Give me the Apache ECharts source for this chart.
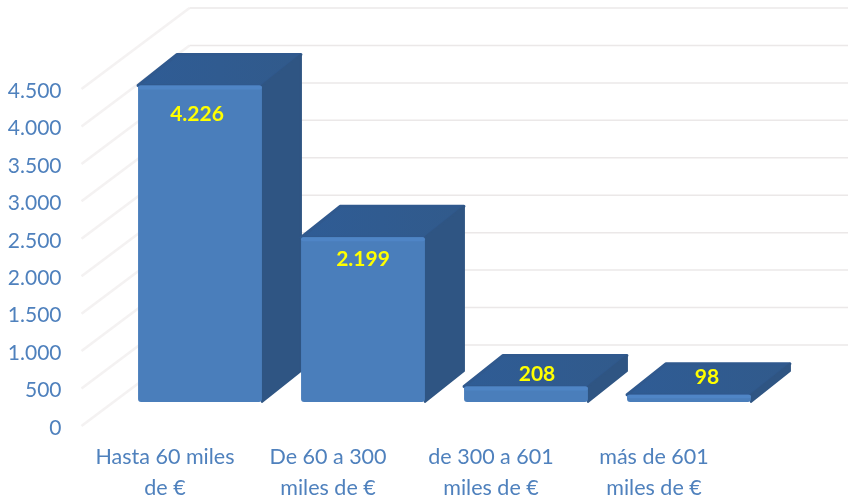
<!DOCTYPE html>
<html>
<head>
<meta charset="utf-8">
<title>Chart</title>
<script src="https://cdn.jsdelivr.net/npm/echarts@6/dist/echarts.min.js"></script>
<style>
  html, body { margin: 0; padding: 0; background: #fff; }
  #chart { width: 848px; height: 498px; }
</style>
</head>
<body>
<div id="chart"></div>
<script>
const categories = ['Hasta 60 miles\nde €', 'De 60 a 300\nmiles de €', 'de 300 a 601\nmiles de €', 'más de 601\nmiles de €'];
const barValues = [4226, 2199, 208, 98];
const tickValues = [0, 500, 1000, 1500, 2000, 2500, 3000, 3500, 4000, 4500];

// fake 3D: bars stand a bit behind the axis plane
const barShift = [35, -24];
const barDepth = [39, -31];
const wallDepth = [108, -81];
// where each yellow label sits, relative to the front top centre of its bar
const labelShift = [[-3, 29], [0, 22], [11, -12], [18, -17]];

const blue = '#4f81bd';
const font = 'Lato, "Open Sans", sans-serif';

// 4226 -> 4.226
function fmt(v) {
  return String(v).replace(/\B(?=(\d{3})+$)/g, '.');
}

function renderGrid(params, api) {
  const y = api.coord([0, api.value(0)])[1];
  const x0 = params.coordSys.x - 2;
  const x1 = x0 + wallDepth[0];
  const yBack = y + wallDepth[1];
  return {
    type: 'group',
    children: [
      { type: 'line', shape: { x1: x0, y1: y, x2: x1, y2: yBack }, style: { stroke: '#f4f2f2', lineWidth: 2.5 } },
      { type: 'line', shape: { x1: x1, y1: yBack, x2: api.getWidth(), y2: yBack }, style: { stroke: '#ebe8e8', lineWidth: 1.5 } }
    ]
  };
}

function renderBar(params, api) {
  const idx = api.value(0);
  const val = api.value(1);
  const top = api.coord([idx, val]);
  const base = api.coord([idx, 0]);
  const w = api.size([1, 0])[0] * 0.76;
  const l = top[0] - w / 2 + barShift[0];
  const r = l + w;
  const t = top[1] + barShift[1];
  const b = base[1] + barShift[1];
  const dx = barDepth[0];
  const dy = barDepth[1];
  const sh = labelShift[params.dataIndex];
  return {
    type: 'group',
    children: [
      {
        type: 'polygon',
        shape: { points: [[l, t], [l + dx, t + dy], [r + dx, t + dy], [r, t]] },
        style: {
          fill: new echarts.graphic.LinearGradient(0, 0, 1, 0, [
            { offset: 0, color: '#2f5c95' },
            { offset: 1, color: '#315a8b' }
          ]),
          stroke: '#30598e', lineWidth: 3, lineJoin: 'round'
        }
      },
      {
        type: 'polygon',
        shape: { points: [[r, t], [r + dx, t + dy], [r + dx, b + dy], [r, b]] },
        style: { fill: '#2f5583', stroke: '#2f5583', lineWidth: 2, lineJoin: 'round' }
      },
      {
        type: 'rect',
        shape: { x: l, y: t, width: w, height: b - t, r: 3 },
        style: { fill: '#4a7ebb' }
      },
      {
        type: 'rect',
        shape: { x: l, y: t, width: w, height: Math.min(4, (b - t) / 2), r: 2 },
        style: { fill: '#4f85c6' }
      },
      {
        type: 'text',
        x: l + w / 2 + sh[0],
        y: t + sh[1],
        style: {
          text: fmt(val),
          fill: '#ffff00',
          font: 'bold 21px ' + font,
          textAlign: 'center',
          textVerticalAlign: 'middle'
        }
      }
    ]
  };
}

const chart = echarts.init(document.getElementById('chart'), null, { renderer: 'canvas' });
chart.setOption({
  animation: false,
  backgroundColor: '#ffffff',
  grid: { left: 83.5, right: 112.5, top: 89, bottom: 72, outerBoundsMode: 'none' },
  xAxis: {
    type: 'category',
    data: categories,
    axisLine: { show: false },
    axisTick: { show: false },
    axisLabel: { color: blue, fontFamily: font, fontSize: 21.5, lineHeight: 31, margin: 16, interval: 0 }
  },
  yAxis: {
    type: 'value',
    min: 0,
    max: 4500,
    interval: 500,
    axisLine: { show: false },
    axisTick: { show: false },
    splitLine: { show: false },
    axisLabel: {
      margin: 22,
      formatter: v => '{t|' + fmt(v) + '}',
      rich: { t: { color: blue, fontFamily: font, fontSize: 21, padding: [4, 0, 0, 0] } }
    }
  },
  series: [
    {
      type: 'custom',
      z: 1,
      silent: true,
      clip: false,
      data: tickValues.map(v => [v]),
      encode: { y: 0 },
      renderItem: renderGrid
    },
    {
      type: 'custom',
      z: 2,
      clip: false,
      data: barValues.map((v, i) => [i, v]),
      encode: { x: 0, y: 1 },
      renderItem: renderBar
    }
  ]
});
</script>
</body>
</html>
